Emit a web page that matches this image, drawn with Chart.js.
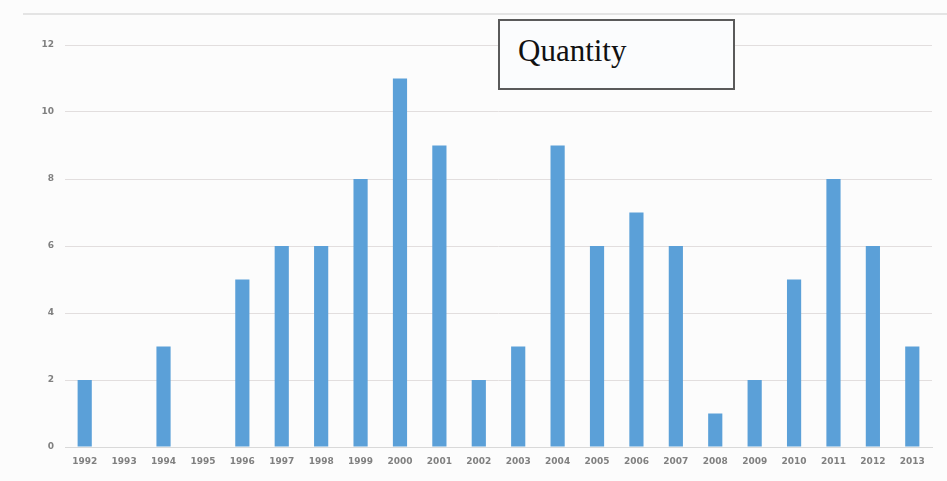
<!DOCTYPE html>
<html>
<head>
<meta charset="utf-8">
<script src="https://cdn.jsdelivr.net/npm/chart.js@4"></script>
<style>
  html, body { margin: 0; padding: 0; background: #fcfcfc; }
  #wrap { position: relative; width: 947px; height: 481px; }
  #chart { position: absolute; left: 0; top: 0; }
  #frameTop { position: absolute; left: 23px; top: 13px; width: 924px; height: 0; border-top: 2px solid #e4e4e4; }
  #legendBox {
    position: absolute; left: 498px; top: 19px; width: 233px; height: 67px;
    border: 2px solid #5a5a5a; background: #fbfcfd;
    font-family: "Liberation Serif", "Times New Roman", serif; font-size: 31px; color: #111;
    box-sizing: content-box;
  }
  #legendBox span { position: absolute; left: 18px; top: 13px; line-height: 34px; }
</style>
</head>
<body>
<div id="wrap">
  <canvas id="chart" width="947" height="481"></canvas>
  <div id="frameTop"></div>
  <div id="legendBox"><span>Quantity</span></div>
</div>
<script>
// Publications per year
const years = ["1992","1993","1994","1995","1996","1997","1998","1999","2000","2001","2002",
               "2003","2004","2005","2006","2007","2008","2009","2010","2011","2012","2013"];
const quantity = [2, 0, 3, 0, 5, 6, 6, 8, 11, 9, 2, 3, 9, 6, 7, 6, 1, 2, 5, 8, 6, 3];
const yTicks = [0, 2, 4, 6, 8, 10, 12];

const tickFont = { family: "DejaVu Sans", size: 9, weight: "bold" };

new Chart(document.getElementById("chart"), {
  type: "bar",
  data: {
    labels: years,
    datasets: [{
      label: "Quantity",
      data: quantity,
      backgroundColor: "#5ba0d8",
      borderWidth: 0,
      barPercentage: 0.36,
      categoryPercentage: 1.0
    }]
  },
  options: {
    responsive: false,
    animation: false,
    layout: { padding: { left: 0, right: 15, top: 45, bottom: 0 } },
    plugins: { legend: { display: false }, tooltip: { enabled: false } },
    scales: {
      x: {
        grid: { display: false, drawTicks: false },
        border: { display: true, color: "#d9d9d9", width: 1 },
        ticks: { font: tickFont, color: "#808080", padding: 9, maxRotation: 0, autoSkip: false },
        afterFit(scale) { scale.height = 34; }
      },
      y: {
        min: 0,
        max: 12,
        afterBuildTicks(scale) { scale.ticks = yTicks.map(v => ({ value: v })); },
        grid: { color: "#e2dede", drawTicks: false, lineWidth: 1 },
        border: { display: false },
        ticks: { font: tickFont, color: "#808080", padding: 11 },
        afterFit(scale) { scale.width = 65; }
      }
    }
  }
});
</script>
</body>
</html>
